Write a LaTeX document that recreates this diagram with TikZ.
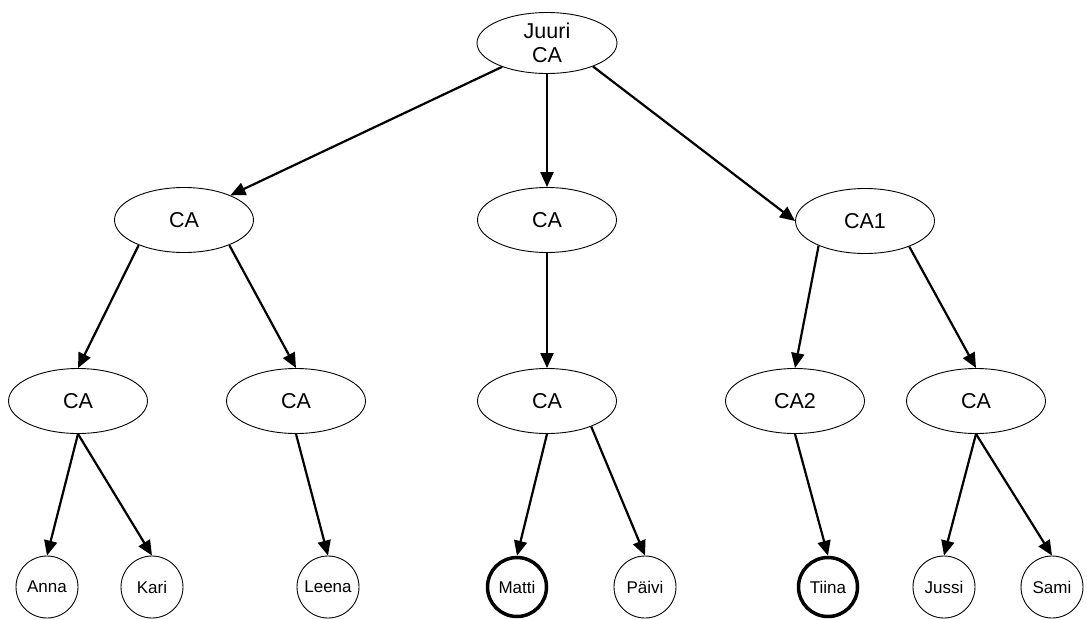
\documentclass[tikz,border=0pt]{standalone}
\usepackage{fontspec}
\setmainfont{Liberation Sans}
\usetikzlibrary{shapes.geometric,arrows.meta}
\begin{document}
\begin{tikzpicture}[x=1pt,y=-1pt,
  ca/.style={ellipse,draw,line width=0.9pt,minimum width=139pt,minimum height=65pt,inner sep=0pt,font=\fontsize{21.5}{24}\selectfont},
  leaf/.style={circle,draw,line width=0.9pt,minimum size=62pt,inner sep=0pt,font=\fontsize{17}{20}\selectfont},
  boldleaf/.style={leaf,line width=3.5pt,minimum size=59pt},
  arr/.style={line width=2.2pt,-{Triangle[length=15pt,width=13pt]}}]
\useasboundingbox (0,0) rectangle (1087,619);
\node[ca,minimum width=140pt,minimum height=61pt,align=center] (root) at (547,43) {Juuri\\CA};
\node[ca] (l2a) at (184,220) {CA};
\node[ca] (l2b) at (547,220) {CA};
\node[ca] (l2c) at (865,221) {CA1};
\node[ca] (l3a) at (78,401) {CA};
\node[ca] (l3b) at (296,401) {CA};
\node[ca] (l3c) at (547,401) {CA};
\node[ca] (l3d) at (795,401) {CA2};
\node[ca] (l3e) at (976,401) {CA};
\node[leaf] (anna) at (47,587) {Anna};
\node[leaf] (kari) at (152,587) {Kari};
\node[leaf] (leena) at (328,587) {Leena};
\node[boldleaf] (matti) at (517,587) {Matti};
\node[leaf] (paivi) at (645,587) {Päivi};
\node[boldleaf] (tiina) at (828,587) {Tiina};
\node[leaf] (jussi) at (944,587) {Jussi};
\node[leaf] (sami) at (1052,587) {Sami};
\draw[arr] (root.208) -- (l2a.28);
\draw[arr] (root.south) -- (l2b.north);
\draw[arr] (root.-27) -- (l2c.west);
\draw[arr] (l2a.-151) -- (l3a.north);
\draw[arr] (l2a.-29) -- (l3b.north);
\draw[arr] (l2b.south) -- (l3c.north);
\draw[arr] (l2c.-152) -- (l3d.north);
\draw[arr] (l2c.-30) -- (l3e.north);
\draw[arr] (l3a.south) -- (anna.north);
\draw[arr] (l3a.south) -- (kari.north);
\draw[arr] (l3b.south) -- (leena.north);
\draw[arr] (l3c.south) -- (matti.north);
\draw[arr] (l3c.-30) -- (paivi.north);
\draw[arr] (l3d.south) -- (tiina.north);
\draw[arr] (l3e.south) -- (jussi.north);
\draw[arr] (l3e.south) -- (sami.north);
\end{tikzpicture}
\end{document}
